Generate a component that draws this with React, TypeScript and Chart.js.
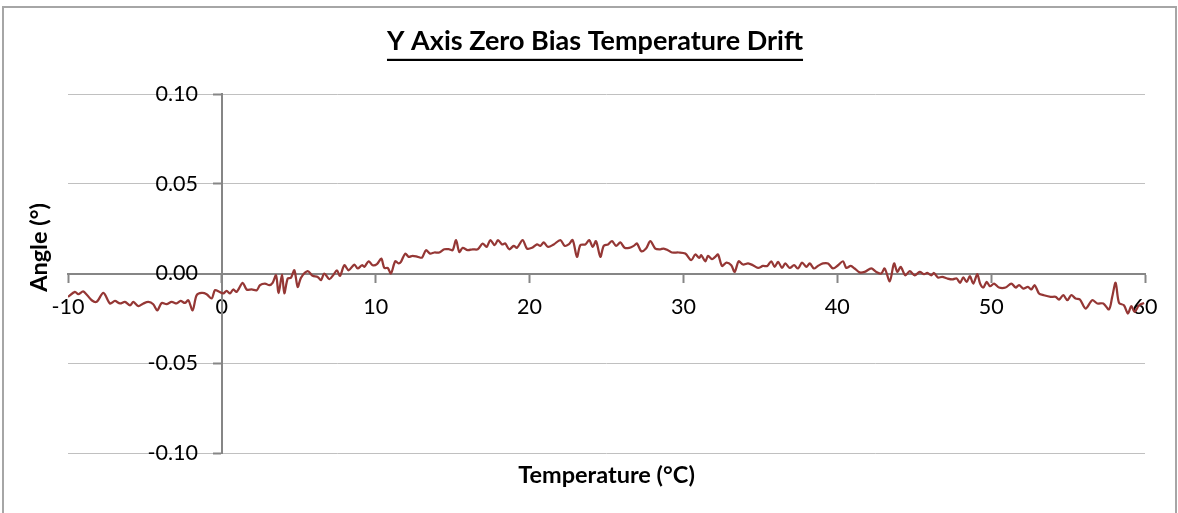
import React, { useEffect, useRef } from 'react';
import { Chart, registerables } from 'chart.js';

Chart.register(...registerables);

const CHART_TITLE = 'Y Axis Zero Bias Temperature Drift';
const X_TITLE = 'Temperature (°C)';
const Y_TITLE = 'Angle (°)';

const X_MIN = -10;
const X_MAX = 60;
const X_STEP = 10;
const Y_MIN = -0.1;
const Y_MAX = 0.1;
const Y_STEP = 0.05;

// Temperature (°C)
const temperatures = [
  -10.0, -9.55, -9.33, -9.0, -8.46, -8.14, -7.7, -7.27, -6.95, -6.62, -6.3, -5.97, -5.75, -5.43, -5.1,
  -4.78, -4.46, -4.2, -3.91, -3.59, -3.26, -2.94, -2.68, -2.4, -2.18, -1.9, -1.64, -1.31, -0.99, -0.66,
  -0.45, -0.17, 0.09, 0.31, 0.53, 0.74, 0.96, 1.35, 1.61, 1.94, 2.27, 2.48, 2.8, 3.09, 3.3,
  3.52, 3.69, 3.91, 4.06, 4.28, 4.49, 4.71, 4.93, 5.14, 5.58, 5.9, 6.23, 6.44, 6.66, 6.98, 7.24, 7.48,
  7.68, 7.96, 8.24, 8.61, 8.83, 9.11, 9.26, 9.54, 9.8, 10.08, 10.36, 10.56, 10.78, 10.99, 11.27, 11.49,
  11.64, 11.92, 12.14, 12.4, 12.73, 13.01, 13.27, 13.53, 13.81, 14.13, 14.46, 14.78, 15.0, 15.22, 15.43,
  15.65, 15.98, 16.3, 16.63, 16.95, 17.21, 17.45,
  17.73, 17.95, 18.21, 18.42, 18.68, 18.97, 19.18, 19.55, 19.83, 20.16, 20.48, 20.7, 20.92, 21.2, 21.57,
  22.0, 22.28, 22.54, 22.8, 23.08, 23.3, 23.62, 23.88, 24.1, 24.32, 24.6, 24.82, 25.1, 25.36, 25.62, 25.9,
  26.18, 26.48, 26.77, 26.98, 27.26, 27.57, 27.85, 28.17, 28.5, 28.71, 28.99, 29.25, 29.69, 30.12, 30.51,
  30.77, 31.03, 31.16, 31.42,
  31.6, 31.86, 32.07, 32.25, 32.51, 32.79, 33.11, 33.33, 33.59, 33.87, 34.2, 34.52, 34.85, 35.17, 35.45,
  35.71, 35.93, 36.15, 36.41, 36.62, 36.91, 37.19, 37.45, 37.71, 37.99, 38.21, 38.48, 38.74, 39.07, 39.4,
  39.72, 40.05, 40.37, 40.59, 40.87, 41.13, 41.45, 41.78, 42.21, 42.54, 42.86, 43.08, 43.41, 43.69, 43.9,
  44.12, 44.42, 44.71, 45.03, 45.36,
  45.64, 45.85, 46.11, 46.28, 46.54, 46.82, 47.15, 47.48, 47.76, 47.98, 48.19, 48.41, 48.62, 48.84, 49.1,
  49.28, 49.49, 49.71, 49.93, 50.19, 50.51, 50.94, 51.31, 51.59, 51.81, 52.09, 52.39, 52.61, 52.83, 53.11,
  53.43, 53.87, 54.19, 54.41, 54.69, 54.95, 55.21, 55.49, 55.77, 56.14, 56.57, 56.9, 57.29, 57.66, 57.87,
  58.09, 58.31, 58.63, 58.89, 59.11, 59.33, 59.61, 59.94,
];

// Angle (°)
const angles = [
  -0.013, -0.0102, -0.0115, -0.01, -0.0149, -0.0158, -0.0108, -0.0167, -0.0153, -0.0167, -0.0158, -0.0177,
  -0.0158, -0.0182, -0.0167, -0.0158, -0.0171, -0.0205, -0.0164, -0.0171, -0.0158, -0.0167, -0.0153, -0.0164,
  -0.0149, -0.0205, -0.0121, -0.0108, -0.0115, -0.0139, -0.0093, -0.0102, -0.0111, -0.0097, -0.0111, -0.0089,
  -0.0102, -0.0052, -0.0089, -0.0089, -0.0093, -0.0065, -0.0056, -0.0065, -0.0052,
  -0.001, -0.011, -0.0006, -0.011, -0.0028, -0.0024, 0.0018, -0.0075, -0.0024, 0.0013, -0.0013, -0.0019,
  -0.0037, 0.0, -0.0032, -0.0009, 0.0018, -0.0013, 0.0046, 0.0018, 0.005, 0.0028, 0.0046, 0.0037, 0.0068,
  0.0046, 0.0052, 0.0083, 0.0031, 0.0031, 0.0, 0.0068, 0.0056, 0.0065, 0.0111, 0.0093, 0.0098, 0.0093,
  0.0089, 0.013, 0.0111, 0.0117, 0.0117, 0.0135, 0.0135, 0.013, 0.0186, 0.012, 0.0143, 0.013, 0.0135,
  0.0135, 0.0167, 0.0148, 0.0186,
  0.0158, 0.0186, 0.0162, 0.0167, 0.0135, 0.0154, 0.0143, 0.0186, 0.0139, 0.0143, 0.0162, 0.0154, 0.0173,
  0.0148, 0.0162, 0.0186, 0.0154, 0.0162, 0.0186, 0.0093, 0.0158, 0.0162, 0.0186, 0.0148, 0.018, 0.0093,
  0.0154, 0.0162, 0.018, 0.0154, 0.0173, 0.0143, 0.0143, 0.0154, 0.0167, 0.0124, 0.0139, 0.018, 0.0139,
  0.0135, 0.0139, 0.013, 0.0117, 0.0117, 0.0111, 0.0074, 0.0106, 0.0087, 0.0102, 0.0068,
  0.0098, 0.008, 0.0093, 0.0106, 0.0042, 0.0061, 0.0046, 0.0009, 0.0068, 0.005, 0.0056, 0.0046, 0.0031,
  0.0042, 0.0042, 0.0068, 0.0037, 0.0065, 0.0031, 0.0056, 0.0031, 0.0046, 0.0028, 0.0061, 0.0037, 0.0056,
  0.0028, 0.0042, 0.0056, 0.0056, 0.0028, 0.0046, 0.0068, 0.0031, 0.0042, 0.0028, 0.0006, 0.0009, 0.0028,
  0.0009, 0.0, 0.0028, -0.0043, 0.0056, 0.0009, 0.0037, -0.001, 0.0013, -0.001, 0.0009,
  -0.0004, 0.0003, -0.001, 0.0003, -0.0022, -0.0019, -0.0028, -0.0033, -0.0028, -0.0052, -0.0022, -0.0047,
  -0.0015, -0.0056, -0.0004, -0.0056, -0.0078, -0.0047, -0.0071, -0.0056, -0.0078, -0.0078, -0.0056, -0.0078,
  -0.0065, -0.0084, -0.0075, -0.0089, -0.0065, -0.0111, -0.0121, -0.013, -0.013, -0.0145, -0.0121, -0.0149,
  -0.0121, -0.0139, -0.0145, -0.0195, -0.0149, -0.0167, -0.0167, -0.02, -0.013, -0.0052, -0.0164, -0.0177,
  -0.0223, -0.0182, -0.0214, -0.0177, -0.0164,
];

const FONT_FAMILY = 'Lato, "Liberation Sans", sans-serif';
const LINE_COLOR = '#953735';
const AXIS_COLOR = '#868686';
const GRID_COLOR = '#c0c0c0';
const TICK_FONT_SIZE = 21.5;
const TITLE_FONT_SIZE = 27;
const AXIS_TITLE_FONT_SIZE = 23.5;

const formatAngle = (v: number) => (Math.abs(v) < 1e-9 ? '0.00' : v.toFixed(2));

const titlesPlugin = {
  id: 'excelTitles',
  afterDraw(chart: any) {
    const { ctx, chartArea } = chart;
    ctx.save();
    ctx.fillStyle = '#000';
    // chart title (bold, underlined)
    ctx.font = `bold ${TITLE_FONT_SIZE}px ${FONT_FAMILY}`;
    ctx.textAlign = 'center';
    ctx.textBaseline = 'alphabetic';
    const tx = 595;
    const ty = 50;
    ctx.fillText(CHART_TITLE, tx, ty);
    const w = ctx.measureText(CHART_TITLE).width;
    ctx.fillRect(tx - w / 2, ty + 8.8, w, 2.2);
    // x axis title
    ctx.font = `bold ${AXIS_TITLE_FONT_SIZE}px ${FONT_FAMILY}`;
    ctx.fillText(X_TITLE, (chartArea.left + chartArea.right) / 2, chartArea.bottom + 29.5);
    // y axis title
    ctx.translate(47, 247.5);
    ctx.rotate(-Math.PI / 2);
    ctx.fillText(Y_TITLE, 0, 0);
    ctx.restore();
  },
};

export default function App() {
  const ref = useRef<HTMLCanvasElement>(null);
  useEffect(() => {
    document.body.style.margin = '0';
    const canvas = ref.current;
    if (!canvas) return;
    const points = temperatures.map((t, i) => ({ x: t, y: angles[i] }));
    const labelAxisX = X_MIN + ((X_MAX - X_MIN) * 130) / 1077; // label column left of the y axis
    const chart = new Chart(canvas, {
      type: 'line',
      data: {
        datasets: [
          {
            label: 'Y axis zero bias',
            data: points,
            borderColor: LINE_COLOR,
            backgroundColor: LINE_COLOR,
            borderWidth: 2.25,
            pointRadius: 0,
            tension: 0.3,
            fill: false,
            xAxisID: 'x',
            yAxisID: 'y',
          },
        ],
      },
      options: {
        responsive: false,
        animation: false,
        devicePixelRatio: 1,
        layout: { padding: { left: 68, right: 33, top: 94, bottom: 60 } },
        plugins: {
          legend: { display: false },
          title: { display: false },
          tooltip: { enabled: false },
        },
        scales: {
          x: {
            type: 'linear',
            axis: 'x',
            position: { y: 0 },
            min: X_MIN,
            max: X_MAX,
            ticks: {
              stepSize: X_STEP,
              color: '#000',
              padding: 13,
              maxRotation: 0,
              font: { family: FONT_FAMILY, size: TICK_FONT_SIZE },
            },
            grid: {
              display: true,
              drawOnChartArea: false,
              drawTicks: true,
              tickLength: 8,
              tickColor: AXIS_COLOR,
              tickWidth: 2,
            },
            border: { display: true, color: AXIS_COLOR, width: 2 },
          },
          y: {
            type: 'linear',
            axis: 'y',
            position: { x: 0 },
            min: Y_MIN,
            max: Y_MAX,
            ticks: { stepSize: Y_STEP, display: false },
            grid: {
              display: true,
              drawOnChartArea: true,
              drawTicks: true,
              tickLength: 8,
              color: (c: any) => (c.tick && Math.abs(c.tick.value) < 1e-9 ? AXIS_COLOR : GRID_COLOR),
              lineWidth: (c: any) => (c.tick && Math.abs(c.tick.value) < 1e-9 ? 2 : 1),
              tickColor: AXIS_COLOR,
              tickWidth: 2,
            },
            border: { display: true, color: AXIS_COLOR, width: 2 },
          },
          yLabels: {
            type: 'linear',
            axis: 'y',
            position: { x: labelAxisX },
            min: Y_MIN,
            max: Y_MAX,
            ticks: {
              stepSize: Y_STEP,
              color: '#000',
              font: { family: FONT_FAMILY, size: TICK_FONT_SIZE },
              callback: (v: any) => formatAngle(Number(v)),
            },
            grid: { display: false, drawTicks: false },
            border: { display: false },
          },
        },
      } as any,
      plugins: [titlesPlugin],
    });
    return () => chart.destroy();
  }, []);

  return (
    <div style={{ position: 'relative', width: 1178, height: 513, overflow: 'hidden', background: '#fff' }}>
      <canvas ref={ref} width={1178} height={513} style={{ position: 'absolute', left: 0, top: 0 }} />
      <div
        style={{
          position: 'absolute',
          left: 2,
          top: 6,
          width: 1175,
          height: 600,
          border: '2px solid #a6a6a6',
          boxSizing: 'border-box',
          pointerEvents: 'none',
        }}
      />
    </div>
  );
}
